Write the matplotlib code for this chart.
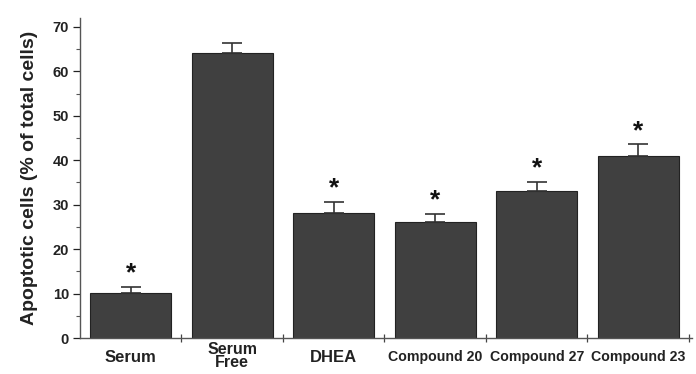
import numpy as np
import matplotlib.pyplot as plt
from matplotlib.ticker import MultipleLocator

# values
groups = ["Serum", "Serum\nFree", "DHEA", "Compound 20", "Compound 27", "Compound 23"]
apoptotic = [10.1, 64.2, 28.2, 26.0, 33.1, 41.0]
sem = [1.4, 2.2, 2.4, 1.9, 2.0, 2.6]
significant = [True, False, True, True, True, True]
label_sizes = [12, 11.5, 12, 10.2, 10.2, 10.2]

plt.rcParams["font.family"] = ["Liberation Sans", "DejaVu Sans"]
plt.rcParams["font.weight"] = "bold"

fig = plt.figure(figsize=(6.96, 3.74), dpi=100)
ax = fig.add_axes([80 / 696, 36 / 374, 612 / 696, 320 / 374])

x = np.arange(len(groups))
ax.bar(x, apoptotic, width=0.8, color="#404040", edgecolor="#222222", linewidth=0.8,
       yerr=[np.zeros(len(sem)), sem], error_kw=dict(ecolor="#333333", elinewidth=1.2,
                                                     capsize=7, capthick=1.2))

for xi, v, e, sig in zip(x, apoptotic, sem, significant):
    if sig:
        ax.text(xi, v + e + 3.0, "*", ha="center", va="center",
                fontsize=19, fontweight="bold", color="#111111")

ax.set_xlim(-0.5, 5.53)
ax.set_ylim(0, 72)
ax.yaxis.set_major_locator(MultipleLocator(10))
ax.yaxis.set_minor_locator(MultipleLocator(5))
ax.tick_params(axis="y", which="major", direction="out", length=5, width=0.9,
               labelsize=10.5, pad=3, colors="#222222")
ax.tick_params(axis="y", which="minor", direction="out", length=3, width=0.8, color="#555555")

# category separators as crossing ticks, labels at bar centers
ax.set_xticks(x + 0.5)
ax.set_xticklabels([])
ax.tick_params(axis="x", which="major", direction="inout", length=6, width=0.9, color="#444444")
for xi, lab, fs in zip(x, groups, label_sizes):
    two_line = "\n" in lab
    ax.text(xi, -0.9 if two_line else -2.6, lab, ha="center", va="top", fontsize=fs,
            fontweight="bold", color="#222222", linespacing=0.8)

for s in ["top", "right"]:
    ax.spines[s].set_visible(False)
for s in ["left", "bottom"]:
    ax.spines[s].set_linewidth(1.0)
    ax.spines[s].set_color("#555555")

ax.set_ylabel("Apoptotic cells (% of total cells)", fontsize=14, fontweight="bold",
              color="#222222", labelpad=10)

fig.savefig("out.png", dpi=100)
